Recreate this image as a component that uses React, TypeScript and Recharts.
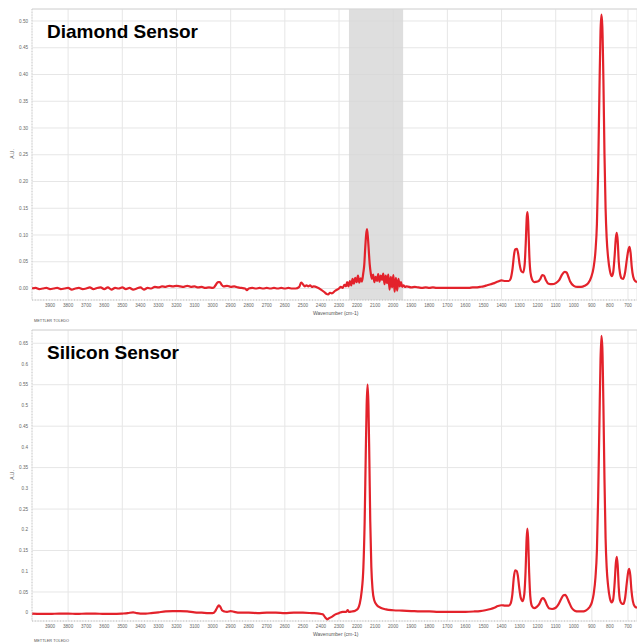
import React from "react";
import { LineChart, Line, XAxis, YAxis, CartesianGrid, ReferenceArea, ReferenceLine } from "recharts";

// wavenumber (cm-1), absorbance (A.U.)
const diamondBaseline: [number, number][] = [
  [4000, 0.0], [3980, 0.001], [3960, -0.001], [3940, 0.0], [3920, 0.001], [3900, -0.001], [3880, 0.0],
  [3860, 0.001], [3840, -0.001], [3820, 0.0], [3800, 0.001], [3780, -0.002], [3760, 0.0], [3740, 0.001],
  [3720, -0.001], [3700, 0.0], [3680, 0.002], [3660, -0.001], [3640, 0.001], [3620, 0.002], [3600, -0.001],
  [3580, 0.002], [3560, -0.002], [3540, 0.001], [3520, 0.0], [3500, 0.002], [3480, -0.001], [3460, 0.001],
  [3440, -0.002], [3420, 0.0], [3400, 0.002], [3380, -0.002], [3360, 0.001], [3340, 0.0], [3320, 0.003],
  [3300, 0.002], [3280, 0.004], [3260, 0.003], [3240, 0.005], [3220, 0.004], [3200, 0.005], [3180, 0.004],
  [3160, 0.003], [3140, 0.005], [3120, 0.003], [3100, 0.004], [3080, 0.002], [3060, 0.003], [3040, 0.001],
  [3020, 0.002], [3000, 0.001], [2990, 0.003], [2980, 0.008], [2970, 0.012], [2960, 0.012], [2950, 0.007],
  [2940, 0.004], [2920, 0.005], [2900, 0.003], [2880, 0.004], [2860, 0.002], [2840, 0.001], [2820, 0.0],
  [2810, -0.003], [2800, 0.0], [2780, 0.001], [2760, 0.0], [2740, 0.001], [2720, 0.0], [2700, 0.001],
  [2680, 0.0], [2660, 0.001], [2640, 0.0], [2620, 0.001], [2600, 0.0], [2580, 0.001], [2560, 0.0],
  [2540, 0.0], [2520, 0.003], [2510, 0.011], [2500, 0.008], [2490, 0.004], [2480, 0.006], [2470, 0.004],
  [2460, 0.006], [2450, 0.003], [2440, 0.004], [2420, 0.002], [2400, -0.002], [2380, -0.007], [2370, -0.01],
  [2360, -0.011], [2350, -0.008], [2340, -0.009], [2320, -0.004], [2300, 0.0], [2290, 0.003], [2280, 0.001],
  [2270, 0.007], [2262, 0.004], [2255, 0.012], [2248, 0.004],
];

const diamondBand: [number, number][] = [
  [2240, 0.014], [2232, 0.006], [2225, 0.018], [2218, 0.009], [2210, 0.02], [2202, 0.012], [2195, 0.024],
  [2188, 0.011], [2180, 0.019], [2173, 0.013], [2166, 0.028], [2160, 0.045], [2155, 0.075], [2150, 0.1],
  [2145, 0.111], [2140, 0.095], [2135, 0.07], [2130, 0.045], [2124, 0.028], [2118, 0.018], [2111, 0.026],
  [2104, 0.012], [2097, 0.022], [2090, 0.014], [2083, 0.027], [2076, 0.013], [2069, 0.024], [2062, 0.016],
  [2055, 0.028], [2048, 0.008], [2041, 0.024], [2034, 0.01], [2027, 0.026], [2020, -0.002], [2013, 0.022],
  [2006, 0.002], [1999, 0.025], [1992, -0.006], [1985, 0.02], [1978, -0.004], [1971, 0.018], [1964, 0.004],
  [1957, 0.012], [1950, 0.003], [1943, 0.006], [1935, 0.003], [1925, 0.004],
];

const diamondFingerprint: [number, number][] = [
  [1900, 0.002], [1880, 0.003], [1860, 0.002], [1840, 0.001], [1820, 0.002], [1800, 0.001], [1780, 0.002],
  [1760, 0.001], [1700, 0.001], [1640, 0.001], [1580, 0.001], [1560, 0.002], [1540, 0.002], [1520, 0.003],
  [1500, 0.004], [1480, 0.006], [1460, 0.008], [1440, 0.01], [1420, 0.013], [1400, 0.015], [1380, 0.014],
  [1360, 0.014], [1350, 0.018], [1340, 0.035], [1330, 0.065], [1325, 0.073], [1315, 0.074], [1308, 0.065],
  [1300, 0.045], [1290, 0.032], [1280, 0.03], [1272, 0.045], [1266, 0.085], [1260, 0.135], [1256, 0.143],
  [1252, 0.12], [1246, 0.06], [1240, 0.03], [1230, 0.016], [1220, 0.012], [1200, 0.013], [1185, 0.018],
  [1175, 0.025], [1165, 0.024], [1155, 0.016], [1140, 0.009], [1120, 0.008], [1100, 0.01], [1080, 0.016],
  [1065, 0.026], [1050, 0.031], [1040, 0.03], [1030, 0.022], [1020, 0.013], [1000, 0.005], [980, 0.003],
  [960, 0.003], [940, 0.005], [920, 0.01], [905, 0.02], [890, 0.04], [880, 0.07], [872, 0.12], [865, 0.22],
  [858, 0.37], [852, 0.48], [847, 0.512], [842, 0.49], [836, 0.39], [830, 0.25], [824, 0.15], [818, 0.095],
  [810, 0.058], [800, 0.033], [790, 0.023], [782, 0.03], [774, 0.06], [767, 0.095], [762, 0.104],
  [757, 0.09], [751, 0.05], [744, 0.028], [735, 0.019], [726, 0.018], [716, 0.03], [706, 0.055],
  [698, 0.072], [691, 0.078], [685, 0.065], [679, 0.04], [671, 0.022], [660, 0.014], [650, 0.012],
];

const siliconSpectrum: [number, number][] = [
  [4000, -0.002], [3950, -0.003], [3900, -0.003], [3850, -0.002], [3800, -0.002], [3750, -0.003],
  [3700, -0.002], [3650, -0.002], [3600, -0.003], [3550, -0.003], [3500, -0.002], [3470, -0.001],
  [3440, 0.001], [3420, -0.001], [3400, -0.002], [3370, -0.002], [3340, -0.001], [3300, 0.001],
  [3260, 0.003], [3220, 0.004], [3180, 0.004], [3140, 0.003], [3100, 0.001], [3060, 0.0], [3020, -0.001],
  [3000, -0.001], [2985, 0.004], [2975, 0.012], [2965, 0.018], [2957, 0.014], [2948, 0.006], [2935, 0.003],
  [2920, 0.002], [2900, 0.004], [2880, 0.002], [2850, 0.0], [2800, 0.0], [2750, -0.001], [2700, 0.0],
  [2650, 0.0], [2600, -0.001], [2550, 0.0], [2500, 0.0], [2450, -0.001], [2410, -0.002], [2390, -0.004],
  [2375, -0.012], [2365, -0.016], [2355, -0.013], [2340, -0.01], [2320, -0.004], [2300, -0.001],
  [2280, 0.002], [2260, 0.002], [2252, 0.006], [2246, 0.002], [2230, 0.003], [2210, 0.005], [2195, 0.01],
  [2185, 0.022], [2175, 0.05], [2165, 0.11], [2158, 0.22], [2152, 0.38], [2147, 0.5], [2142, 0.55],
  [2137, 0.5], [2132, 0.37], [2127, 0.22], [2121, 0.11], [2114, 0.055], [2105, 0.03], [2090, 0.018],
  [2070, 0.012], [2040, 0.008], [2000, 0.006], [1950, 0.005], [1900, 0.004], [1850, 0.003], [1800, 0.003],
  [1750, 0.002], [1700, 0.002], [1650, 0.002], [1600, 0.002], [1550, 0.003], [1520, 0.004], [1490, 0.006],
  [1460, 0.009], [1440, 0.012], [1420, 0.016], [1400, 0.018], [1380, 0.017], [1360, 0.017], [1350, 0.022],
  [1340, 0.045], [1332, 0.085], [1325, 0.102], [1317, 0.101], [1310, 0.09], [1302, 0.06], [1293, 0.035],
  [1283, 0.028], [1274, 0.045], [1267, 0.1], [1261, 0.18], [1257, 0.203], [1253, 0.18], [1247, 0.095],
  [1241, 0.04], [1232, 0.016], [1220, 0.011], [1205, 0.014], [1190, 0.022], [1178, 0.033], [1170, 0.035],
  [1160, 0.03], [1148, 0.018], [1135, 0.01], [1120, 0.009], [1100, 0.012], [1085, 0.02], [1070, 0.033],
  [1057, 0.042], [1047, 0.043], [1037, 0.036], [1025, 0.024], [1012, 0.012], [995, 0.005], [975, 0.003],
  [955, 0.003], [935, 0.005], [915, 0.012], [900, 0.025], [890, 0.045], [880, 0.085], [872, 0.15],
  [865, 0.28], [858, 0.46], [852, 0.61], [847, 0.668], [842, 0.64], [836, 0.5], [830, 0.32], [824, 0.18],
  [818, 0.11], [810, 0.065], [800, 0.035], [790, 0.025], [782, 0.032], [774, 0.07], [767, 0.12],
  [762, 0.135], [757, 0.115], [751, 0.06], [744, 0.03], [735, 0.022], [726, 0.021], [716, 0.035],
  [707, 0.07], [699, 0.098], [693, 0.106], [687, 0.09], [681, 0.055], [673, 0.028], [662, 0.015], [650, 0.012],
];

const xTicks = [3900, 3800, 3700, 3600, 3500, 3400, 3300, 3200, 3100, 3000, 2900, 2800, 2700, 2600, 2500,
  2400, 2300, 2200, 2100, 2000, 1900, 1800, 1700, 1600, 1500, 1400, 1300, 1200, 1100, 1000, 900, 800, 700];
const diamondYTicks = [0, 0.05, 0.1, 0.15, 0.2, 0.25, 0.3, 0.35, 0.4, 0.45, 0.5];
const siliconYTicks = [0, 0.05, 0.1, 0.15, 0.2, 0.25, 0.3, 0.35, 0.4, 0.45, 0.5, 0.55, 0.6, 0.65];

const FONT = "'Liberation Sans', Arial, sans-serif";
const RED = "#e3222b";

function toRows(pts: [number, number][]) {
  return pts.map(([wn, a]) => ({ wn, a }));
}

function Spectrum({ data, yDomain, yTicks, fmt, band }: {
  data: { wn: number; a: number }[]; yDomain: [number, number]; yTicks: number[];
  fmt: (v: number) => string; band?: boolean;
}) {
  const tick = { fill: "#666", fontSize: 4.6, fontFamily: FONT };
  return (
    <LineChart width={637} height={320} data={data} margin={{ top: 9, right: 0, bottom: 0, left: 0 }}>
      <CartesianGrid stroke="#e6e6e6" strokeWidth={1} />
      {band && <ReferenceArea x1={1945} x2={2245} fill="#d6d6d6" fillOpacity={0.8} stroke="none" />}
      <XAxis type="number" dataKey="wn" domain={[650, 4000]} reversed allowDataOverflow ticks={xTicks}
        height={20} tickLine={false} tickSize={0} tickMargin={4} tick={tick}
        axisLine={{ stroke: "#bbb", strokeDasharray: "1 1.8" }} />
      <YAxis type="number" domain={yDomain} allowDataOverflow ticks={yTicks} tickFormatter={fmt}
        width={32} tickLine={false} tickSize={0} tickMargin={4} tick={tick}
        axisLine={{ stroke: "#ccc", strokeDasharray: "1 1.8" }} />
      <ReferenceLine y={yDomain[1]} stroke="#d8d8d8" />
      <Line type="monotone" dataKey="a" stroke={RED} strokeWidth={2.2} dot={false} isAnimationActive={false} />
    </LineChart>
  );
}

const small = (size: number): React.CSSProperties => ({
  position: "absolute", fontFamily: FONT, fontSize: size, color: "#555", lineHeight: 1, whiteSpace: "nowrap",
});
const title: React.CSSProperties = {
  position: "absolute", left: 47, fontFamily: FONT, fontSize: 19, fontWeight: "bold", color: "#000", lineHeight: 1,
};

export default function App() {
  const diamond = toRows([...diamondBaseline, ...diamondBand, ...diamondFingerprint]);
  const silicon = toRows(siliconSpectrum);
  return (
    <div style={{ position: "absolute", left: 0, top: 0, width: 637, height: 643, overflow: "hidden", background: "#fff" }}>
      <div style={{ position: "absolute", left: 0, top: 0 }}>
        <Spectrum data={diamond} yDomain={[-0.0215, 0.5224]} yTicks={diamondYTicks} fmt={(v) => v.toFixed(2)} band />
      </div>
      <div style={{ position: "absolute", left: 0, top: 321 }}>
        <Spectrum data={silicon} yDomain={[-0.02, 0.682]} yTicks={siliconYTicks} fmt={(v) => String(+v.toFixed(2))} />
      </div>

      <div style={{ ...title, top: 22 }}>Diamond Sensor</div>
      <div style={{ ...title, top: 343 }}>Silicon Sensor</div>

      <div style={{ ...small(5), left: 313, top: 311 }}>Wavenumber (cm-1)</div>
      <div style={{ ...small(5), left: 313, top: 632 }}>Wavenumber (cm-1)</div>
      <div style={{ ...small(3.9), left: 34, top: 319 }}>METTLER TOLEDO</div>
      <div style={{ ...small(3.9), left: 34, top: 639 }}>METTLER TOLEDO</div>

      <div style={{ ...small(5), left: 12, top: 154, transform: "translate(-50%, -50%) rotate(-90deg)" }}>A.U.</div>
      <div style={{ ...small(5), left: 12, top: 475, transform: "translate(-50%, -50%) rotate(-90deg)" }}>A.U.</div>
    </div>
  );
}
